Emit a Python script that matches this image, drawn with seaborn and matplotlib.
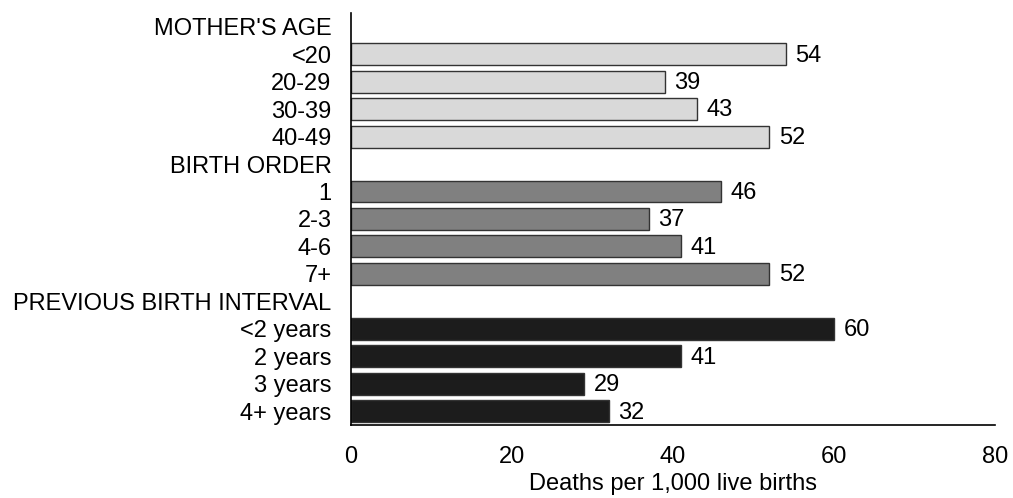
import numpy as np
import seaborn as sns
import matplotlib.pyplot as plt
import pandas as pd

sns.set_style('white')
plt.rcParams['font.family'] = ['Liberation Sans', 'DejaVu Sans']
plt.rcParams.update({'font.size': 17, 'text.color': 'black',
                     'xtick.color': 'black', 'ytick.color': 'black',
                     'axes.labelcolor': 'black'})

groups = ["MOTHER'S AGE", 'BIRTH ORDER', 'PREVIOUS BIRTH INTERVAL']
age_labels = ['<20', '20-29', '30-39', '40-49']
age_values = [54, 39, 43, 52]
order_labels = ['1', '2-3', '4-6', '7+']
order_values = [46, 37, 41, 52]
interval_labels = ['<2 years', '2 years', '3 years', '4+ years']
interval_values = [60, 41, 29, 32]
colors = ['#d9d9d9', '#808080', '#1c1c1c']

rows = []
order = []
for g, labs, vals in zip(groups, [age_labels, order_labels, interval_labels],
                         [age_values, order_values, interval_values]):
    order.append(g)
    for l, v in zip(labs, vals):
        rows.append((l, v, g))
        order.append(l)
df = pd.DataFrame(rows, columns=['Category', 'Deaths', 'Group'])

fig = plt.figure(figsize=(10.13, 4.98), dpi=100)
ax = fig.add_axes([0.3465, 0.1466, 0.6355, 0.8274])
sns.barplot(data=df, y='Category', x='Deaths', hue='Group', order=order,
            palette=dict(zip(groups, colors)), dodge=False, width=0.8,
            edgecolor='#333333', linewidth=1, legend=False, ax=ax)

# value labels next to bar ends
for p in ax.patches:
    w = p.get_width()
    if np.isnan(w) or w == 0:
        continue
    ax.annotate(f'{w:.0f}', (w, p.get_y() + p.get_height() / 2),
                xytext=(7, -1), textcoords='offset points',
                ha='left', va='center', fontsize=17)

ax.set_xlim(0, 80)
ax.set_ylim(14.5, -0.5)
ax.set_xticks([0, 20, 40, 60, 80])
ax.set_xlabel('Deaths per 1,000 live births', fontsize=17, labelpad=4)
ax.set_ylabel('')
ax.tick_params(axis='y', length=0, pad=14)
ax.tick_params(axis='x', length=0, pad=15)
for s in ['top', 'right']:
    ax.spines[s].set_visible(False)
for s in ['left', 'bottom']:
    ax.spines[s].set_color('black')
    ax.spines[s].set_linewidth(1.2)

plt.savefig('out.png', dpi=100)
